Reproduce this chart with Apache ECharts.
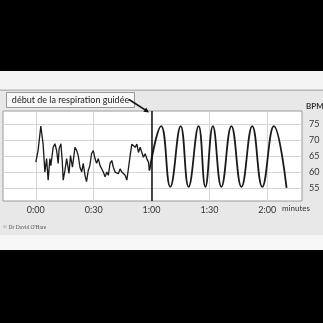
<!DOCTYPE html>
<html>
<head>
<meta charset="utf-8">
<script src="https://cdn.jsdelivr.net/npm/echarts@6/dist/echarts.min.js"></script>
<style>
html,body{margin:0;padding:0;background:#000;}
#c{width:323px;height:323px;}
</style>
</head>
<body>
<div id="c"></div>
<script>
// Spontaneous heart rate before guided breathing (time in s, BPM)
const rawTimes = [0,1.2,2.6,3.8,4.7,5.6,6.4,7.3,7.8,9,9.9,10.8,11.6,12.1,13,13.7,14.2,15.1,16,17.2,18,19,20.3,21.2,22,22.9,23.8,24.6,25.5,26.3,27.2,28,28.9,29.8,30.7,31.5,32.4,33.3,34.1,35,35.9,36.8,37.6,38.5,39.4,40.2,41.1,42,42.8,43.7,44.6,45.4,46.3,47.2,48,48.9,49.8,50.6,51.5,52.4,53.2,54.1,55,55.8,56.7,57.6,58.4,58.9];
const rawBpm = [63.1,66.7,74.3,68.7,60,64.2,57.5,64.2,62,67.7,68.8,66.7,62.7,67.3,68.8,63.6,57.5,60.5,64.2,59.6,65.1,61.5,67.7,66.7,65.1,61.5,60,62.7,59,57,60.5,62,65.7,66.7,64.2,62.7,64.2,62,61.5,60,58.5,60,59,62.7,63.6,61.5,60,60.5,59.5,61,60,60.5,59,57.5,61,65.1,68.7,69.2,67.7,68.7,66.1,67.7,67.2,64.6,65.7,64.1,63.1,60.5];
// Guided breathing: peaks and troughs
const guidedTimes = [58.9,65,69.7,75.1,79.2,84.4,87.9,91.8,96.2,101.4,106.6,112.2,117.4,123.4,130];
const guidedBpm = [60.5,74.3,55.4,74.3,55.4,74.3,55.4,74.3,55.4,74.3,55.4,74.3,55.4,74.3,55.1];
const guidedStart = 60;
const xTickValues = [0,30,60,90,120];
const xTickLabels = ['0:00','0:30','1:00','1:30','2:00'];
const yTickValues = [55,60,65,70,75];
const yTickLabels = ['55','60','65','70','75'];

const rawData = rawTimes.map((t,i)=>[t,rawBpm[i]]);
const guidedData = guidedTimes.map((t,i)=>[t,guidedBpm[i]]);

const chart = echarts.init(document.getElementById('c'), null, {renderer:'canvas'});
const font = 'Lato, "Open Sans", sans-serif';
chart.setOption({
  animation:false,
  backgroundColor:'#000',
  graphic:[
    {type:'rect', z:-10, shape:{x:0,y:71,width:323,height:19}, style:{fill:'#f4f4f4'}},
    {type:'rect', z:-10, shape:{x:0,y:90,width:323,height:145}, style:{fill:'#e8e8e8'}},
    {type:'rect', z:-9, shape:{x:0,y:89.5,width:323,height:1.5}, style:{fill:'#b8b8b8'}},
    {type:'rect', z:-10, shape:{x:0,y:235,width:323,height:15}, style:{fill:'#f7f7f7'}},
    {type:'rect', z:10, shape:{x:6.5,y:92.5,width:128,height:15}, style:{fill:'#f8f8f8', stroke:'#999', lineWidth:1}},
    {type:'text', z:11, x:70.5, y:100, style:{text:'début de la respiration guidée', font:'9px '+font, fill:'#222', align:'center', verticalAlign:'middle'}},
    {type:'line', z:11, shape:{x1:129,y1:99.5,x2:145.5,y2:110.2}, style:{stroke:'#111', lineWidth:1.6}},
    {type:'polygon', z:11, shape:{points:[[149,112.5],[143.4,111.8],[146.2,107.6]]}, style:{fill:'#111'}},
    {type:'text', z:11, x:306, y:106, style:{text:'BPM', font:'bold 8px '+font, fill:'#333', align:'left', verticalAlign:'middle'}},
    {type:'text', z:11, x:296, y:208.5, style:{text:'minutes', font:'8px '+font, fill:'#333', align:'center', verticalAlign:'middle'}},
    {type:'text', z:11, x:3, y:228, style:{text:'© Dr David O\'Hare', font:'5.5px "Liberation Serif", serif', fill:'#555', verticalAlign:'middle'}}
  ],
  grid:{left:3, right:21, top:111, bottom:122, show:true, backgroundColor:'#fff', borderColor:'#9a9a9a', borderWidth:1},
  xAxis:{
    type:'value', min:-17, max:138,
    axisLine:{show:false}, axisTick:{show:false, customValues:xTickValues},
    axisLabel:{customValues:xTickValues, fontFamily:font, fontSize:9, color:'#333', margin:5,
      formatter:(v)=>xTickLabels[xTickValues.indexOf(v)]},
    splitLine:{show:true, lineStyle:{color:'#d6d6d6', width:1}}
  },
  yAxis:{
    type:'value', min:51, max:79, position:'right',
    axisLine:{show:false}, axisTick:{show:false, customValues:yTickValues},
    axisLabel:{customValues:yTickValues, fontFamily:font, fontSize:9, color:'#333', margin:7,
      formatter:(v)=>yTickLabels[yTickValues.indexOf(v)]},
    splitLine:{show:true, lineStyle:{color:'#d6d6d6', width:1}}
  },
  series:[
    {type:'line', data:rawData, showSymbol:false, lineStyle:{color:'#1a1a1a', width:1.3},
      markLine:{silent:true, symbol:'none', label:{show:false}, lineStyle:{color:'#111', width:1.5, type:'solid'},
        data:[{xAxis:guidedStart}]}},
    {type:'line', data:guidedData, showSymbol:false, smooth:0.45, lineStyle:{color:'#1a1a1a', width:1.8}}
  ]
});
</script>
</body>
</html>
